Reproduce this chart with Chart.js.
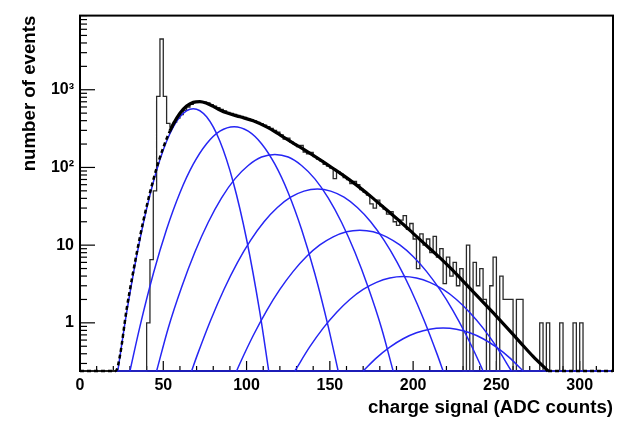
<!DOCTYPE html>
<html>
<head>
<meta charset="utf-8">
<script src="https://cdn.jsdelivr.net/npm/chart.js@4.4.0/dist/chart.umd.min.js"></script>
<style>
  html, body { margin: 0; padding: 0; background: #fff; }
  #wrap { width: 620px; height: 423px; }
</style>
</head>
<body>
<div id="wrap"><canvas id="grafico" width="620" height="423"></canvas></div>
<script>
// histogram, 2 ADC counts per bin, starting at 0
const histCounts = [
  0, 0, 0, 0, 0, 0, 0, 0, 0, 0,
  0, 0, 0, 0, 0, 0, 0, 0, 0, 0,
  1, 6.5, 50, 820, 4500, 820, 370, 330, 380, 430,
  480, 545, 600, 650, 690, 700, 705, 690, 675, 645,
  615, 590, 560, 535, 510, 495, 480, 468, 455, 440,
  425, 410, 398, 380, 365, 350, 335, 318, 300, 285,
  262, 232, 238, 212, 200, 186, 192, 158, 150, 156,
  138, 128, 122, 110, 104, 98, 72, 88, 82, 74,
  70, 62, 66, 60, 52, 48, 44, 34, 30, 38,
  32, 29, 25, 27, 20, 18, 21, 24, 16, 19,
  12, 5, 14, 10, 12, 8, 13, 7, 9, 3.2,
  7, 4, 6, 3, 5, 0, 10, 0, 6, 3,
  5, 2, 0, 3, 7, 0, 4, 2, 2, 2,
  0, 2, 2, 0, 0, 0, 0, 0, 1, 0,
  1, 0, 0, 0, 1, 0, 0, 0, 1, 0,
  1, 0, 0, 0, 0, 0, 0, 0, 0, 0
];
const binWidth = 2;

// total fit: dashed outside the fit range, solid inside it
const fitLowX = [0, 21.5, 24, 28, 32, 36, 40, 44, 48, 52, 54];
const fitLowY = [0, 0, 0.38, 1.5, 4.6, 12.8, 31.5, 69, 135, 234, 295];
const fitX = [54, 56, 60, 64, 68, 72, 76, 80, 84, 88, 96, 104, 112, 120, 128, 136, 144, 152, 160, 168, 176, 184, 192, 200, 208, 216, 224, 232, 240, 248, 256, 264, 272, 281];
const fitY = [295, 361, 498, 616, 688, 703, 669, 610, 549, 504, 448, 399, 332, 263, 206, 162, 126, 97, 74, 55, 40, 28.5, 20.3, 14.2, 9.9, 6.9, 4.7, 3.1, 2.05, 1.35, 0.88, 0.57, 0.37, 0.24];
const fitHighX = [281, 320];
const fitHighY = [0, 0];

// photoelectron components
const comp1X = [22.7, 28, 36, 44, 52, 60, 68, 76, 84, 92, 100, 108, 113.3];
const comp1Y = [0.24, 1.35, 11.9, 64.6, 217, 448, 570, 448, 217, 64.6, 11.9, 1.35, 0.24];
const comp2X = [30, 36, 44, 52, 60, 68, 76, 84, 92.5, 101, 109, 117, 125, 133, 141, 149, 155];
const comp2Y = [0.24, 0.9, 4.28, 16, 47.3, 110, 202, 293, 335, 293, 202, 110, 47.3, 16, 4.28, 0.9, 0.24];
const comp3X = [46, 53, 61, 69, 77, 85, 93, 101, 109, 117, 125, 133, 141, 149, 157, 165, 173, 181, 188];
const comp3Y = [0.24, 0.86, 2.87, 8.15, 19.7, 40.6, 71.3, 106, 136, 147, 136, 106, 71.3, 40.6, 19.7, 8.15, 2.87, 0.86, 0.24];
const comp4X = [67, 70.5, 78.5, 86.5, 94.5, 102.5, 110.5, 118.5, 126.5, 134.5, 142.5, 150.5, 158.5, 166.5, 174.5, 182.5, 190.5, 198.5, 206.5, 214.5, 218];
const comp4Y = [0.24, 0.39, 1.09, 2.71, 5.96, 11.6, 20.0, 30.5, 41.4, 49.6, 52.7, 49.6, 41.4, 30.5, 20.0, 11.6, 5.96, 2.71, 1.09, 0.39, 0.24];
const comp5X = [94, 96, 104, 112, 120, 128, 136, 144, 152, 160, 168, 176, 184, 192, 200, 208, 216, 224, 232, 240, 242];
const comp5Y = [0.24, 0.3, 0.687, 1.43, 2.69, 4.6, 7.14, 10.05, 12.8, 14.9, 15.6, 14.9, 12.8, 10.05, 7.14, 4.6, 2.69, 1.43, 0.687, 0.3, 0.24];
const comp6X = [129, 138, 146, 154, 162, 170, 178, 186, 194, 202, 210, 218, 226, 234, 242, 250, 259];
const comp6Y = [0.24, 0.493, 0.855, 1.36, 2.0, 2.69, 3.32, 3.77, 3.94, 3.77, 3.32, 2.69, 2.0, 1.36, 0.855, 0.493, 0.24];
const comp7X = [170, 178, 186, 194, 202, 210, 218, 226, 234, 242, 250, 258, 266];
const comp7Y = [0.24, 0.354, 0.486, 0.624, 0.744, 0.828, 0.857, 0.828, 0.744, 0.624, 0.486, 0.354, 0.24];
const baseX = [21, 320];
const baseY = [0, 0];

const xTicks = [0, 50, 100, 150, 200, 250, 300];
const yTicks = [1, 10, 100, 1000];
const yTickText = ['1', '10', '10²', '10³'];
const yMin = 0.24;
const yMax = 9000;

const blue = '#2626f4';
const fuente = 'Liberation Sans, Arial, sans-serif';

// values below the axis minimum sit on the bottom edge, as in ROOT
function pares(xs, ys) {
    return xs.map((x, i) => ({ x: x, y: Math.max(ys[i], yMin) }));
}

let histPts = histCounts.map((v, i) => ({ x: i * binWidth, y: Math.max(v, yMin) }));
histPts.push({ x: histCounts.length * binWidth, y: Math.max(histCounts[histCounts.length - 1], yMin) });

const comps = [
    [comp1X, comp1Y], [comp2X, comp2Y], [comp3X, comp3Y], [comp4X, comp4Y],
    [comp5X, comp5Y], [comp6X, comp6Y], [comp7X, comp7Y], [baseX, baseY]
];

let datasets = [];
datasets.push({
    label: 'fit',
    data: pares(fitX, fitY),
    borderColor: '#000',
    borderWidth: 3.2,
    cubicInterpolationMode: 'monotone',
    order: 1
});
[[fitLowX, fitLowY], [fitHighX, fitHighY]].forEach(f => {
    datasets.push({
        label: 'fit (extrapolated)',
        data: pares(f[0], f[1]),
        borderColor: '#000',
        borderWidth: 2.5,
        borderDash: [4, 3],
        cubicInterpolationMode: 'monotone',
        order: 1
    });
});
comps.forEach((c, i) => {
    datasets.push({
        label: 'comp' + (i + 1),
        data: pares(c[0], c[1]),
        borderColor: blue,
        borderWidth: 1.5,
        cubicInterpolationMode: 'monotone',
        order: 2
    });
});
datasets.push({
    label: 'data',
    data: histPts,
    borderColor: '#2a2a2a',
    borderWidth: 1.3,
    stepped: true,
    order: 3
});

// frame and ROOT style ticks (pointing inside)
const marco = {
    id: 'marco',
    beforeDatasetsDraw(chart) {
        const ctx = chart.ctx;
        const a = chart.chartArea;
        const xs = chart.scales.x;
        const ys = chart.scales.y;
        ctx.save();
        ctx.strokeStyle = '#000';
        ctx.lineWidth = 1.2;
        for (let v = 10; v <= 320; v += 10) {
            let px = xs.getPixelForValue(v);
            let len = v % 50 === 0 ? 10 : 5;
            ctx.beginPath();
            ctx.moveTo(px, a.bottom);
            ctx.lineTo(px, a.bottom - len);
            ctx.stroke();
        }
        for (let e = -1; e <= 3; e++) {
            for (let k = 1; k <= 9; k++) {
                let v = k * Math.pow(10, e);
                if (v < ys.min || v > ys.max) continue;
                let py = ys.getPixelForValue(v);
                let len = k === 1 ? 15 : 7;
                ctx.beginPath();
                ctx.moveTo(a.left, py);
                ctx.lineTo(a.left + len, py);
                ctx.stroke();
            }
        }
        ctx.lineWidth = 2;
        ctx.strokeRect(a.left, a.top, a.right - a.left, a.bottom - a.top);
        ctx.restore();
    }
};

let ctx = document.getElementById('grafico').getContext('2d');
let grafico = new Chart(ctx, {
    type: 'line',
    data: { datasets: datasets },
    options: {
        responsive: false,
        animation: false,
        devicePixelRatio: 1,
        clip: 4,
        elements: { point: { radius: 0 }, line: { fill: false } },
        layout: { padding: { top: 10, right: 7, left: 0, bottom: 0 } },
        plugins: { legend: { display: false }, tooltip: { enabled: false } },
        scales: {
            x: {
                type: 'linear',
                min: 0,
                max: 320,
                grid: { display: false, drawTicks: false },
                border: { display: false },
                afterBuildTicks: s => { s.ticks = xTicks.map(v => ({ value: v })); },
                afterFit: s => { s.height = 52; },
                ticks: {
                    color: '#000',
                    padding: 5,
                    maxRotation: 0,
                    font: { family: fuente, size: 16, weight: 'bold' }
                },
                title: {
                    display: true,
                    text: 'charge signal (ADC counts)',
                    align: 'end',
                    color: '#000',
                    padding: { top: 0, bottom: 4 },
                    font: { family: fuente, size: 18.7, weight: 'bold' }
                }
            },
            y: {
                type: 'logarithmic',
                min: yMin,
                max: yMax,
                grid: { display: false, drawTicks: false },
                border: { display: false },
                afterBuildTicks: s => { s.ticks = yTicks.map(v => ({ value: v })); },
                afterFit: s => { s.width = 80; },
                ticks: {
                    color: '#000',
                    padding: 6,
                    callback: v => yTickText[yTicks.indexOf(v)],
                    font: { family: fuente, size: 16, weight: 'bold' }
                },
                title: {
                    display: true,
                    text: 'number of events',
                    align: 'end',
                    color: '#000',
                    padding: { top: 19, bottom: 0 },
                    font: { family: fuente, size: 18.7, weight: 'bold' }
                }
            }
        }
    },
    plugins: [marco]
});
</script>
</body>
</html>
